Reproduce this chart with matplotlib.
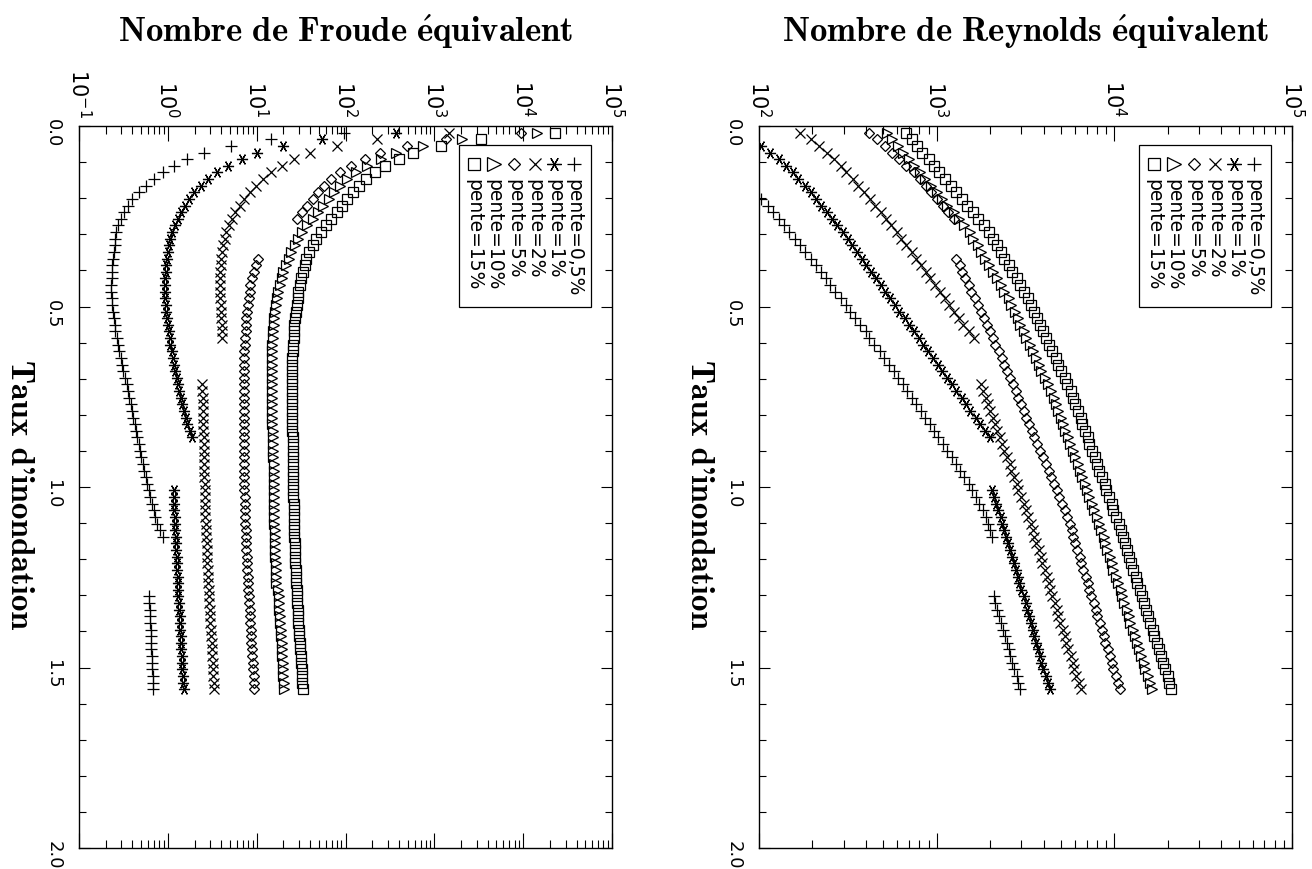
import numpy as np
import matplotlib
matplotlib.use('Agg')
import matplotlib.pyplot as plt
from matplotlib.ticker import (LogLocator, FixedLocator, LogFormatterMathtext, NullFormatter,
                               MultipleLocator, FormatStrFormatter)

plt.rcParams['font.family'] = ['DejaVu Sans']

# sampling grid of the flooding rate (85 points)
taux = np.linspace(0.01835, 1.56, 85)

# values stored as log10 ; each segment starts at grid index k (1-based)
# --- Froude ---
fr_05_a = [1.98, 1.16, 0.71, 0.41, 0.22, 0.07, -0.06, -0.16, -0.25, -0.33,
           -0.40, -0.45, -0.49, -0.53, -0.56, -0.58, -0.59, -0.60, -0.61, -0.62,
           -0.625, -0.63, -0.63, -0.635, -0.635, -0.63, -0.625, -0.62, -0.61, -0.60,
           -0.59, -0.575, -0.56, -0.545, -0.53, -0.515, -0.50, -0.48, -0.465, -0.45,
           -0.435, -0.42, -0.405, -0.39, -0.375, -0.36, -0.345, -0.33, -0.315, -0.30,
           -0.285, -0.27, -0.25, -0.235, -0.215, -0.20, -0.18, -0.16, -0.14, -0.12,
           -0.09, -0.06]
fr_05_b = [-0.21, -0.21, -0.205, -0.20, -0.20, -0.195, -0.19, -0.19, -0.185, -0.18,
           -0.18, -0.175, -0.17, -0.17, -0.165]
fr_1_a = [2.57, 1.74, 1.30, 1.00, 0.83, 0.68, 0.55, 0.45, 0.37, 0.30,
          0.24, 0.19, 0.15, 0.11, 0.08, 0.05, 0.03, 0.01, 0.0, -0.01,
          -0.02, -0.025, -0.03, -0.03, -0.03, -0.03, -0.025, -0.02, -0.01, 0.0,
          0.01, 0.02, 0.03, 0.045, 0.06, 0.07, 0.085, 0.10, 0.115, 0.13,
          0.145, 0.16, 0.18, 0.20, 0.22, 0.245, 0.27]
fr_1_b = [0.065, 0.068, 0.07, 0.073, 0.076, 0.08, 0.083, 0.087, 0.09, 0.094,
          0.098, 0.10, 0.105, 0.11, 0.113, 0.117, 0.12, 0.125, 0.13, 0.133,
          0.137, 0.14, 0.145, 0.15, 0.153, 0.157, 0.16, 0.165, 0.17, 0.173, 0.177]
fr_2_a = [3.17, 2.35, 1.90, 1.60, 1.42, 1.28, 1.16, 1.07, 0.99, 0.92,
          0.86, 0.81, 0.76, 0.72, 0.69, 0.66, 0.64, 0.62, 0.61, 0.60,
          0.595, 0.59, 0.59, 0.59, 0.59, 0.59, 0.595, 0.60, 0.60, 0.605,
          0.61, 0.615]
fr_2_b = [0.39, 0.39, 0.392, 0.394, 0.396, 0.398, 0.40, 0.40, 0.402, 0.404,
          0.406, 0.408, 0.41, 0.41, 0.412, 0.414, 0.416, 0.418, 0.42, 0.422,
          0.424, 0.426, 0.43, 0.433, 0.436, 0.44, 0.443, 0.446, 0.45, 0.453,
          0.456, 0.46, 0.464, 0.468, 0.472, 0.476, 0.48, 0.484, 0.488, 0.492,
          0.496, 0.50, 0.504, 0.508, 0.512, 0.516, 0.52]
fr_5_a = [3.98, 3.13, 2.69, 2.39, 2.22, 2.06, 1.94, 1.84, 1.76, 1.69,
          1.63, 1.57, 1.51, 1.45]
fr_5_b = [1.02, 0.99, 0.965, 0.945, 0.93, 0.92, 0.91, 0.90, 0.89, 0.885,
          0.88, 0.875, 0.87, 0.865, 0.86, 0.86, 0.855, 0.855, 0.855, 0.855,
          0.855, 0.855, 0.855, 0.855, 0.855, 0.855, 0.855, 0.856, 0.857, 0.858,
          0.858, 0.859, 0.86, 0.861, 0.862, 0.863, 0.864, 0.866, 0.868, 0.87,
          0.872, 0.875, 0.878, 0.881, 0.884, 0.888, 0.892, 0.896, 0.90, 0.904,
          0.908, 0.912, 0.916, 0.92, 0.924, 0.928, 0.932, 0.936, 0.94, 0.945,
          0.95, 0.955, 0.96, 0.965, 0.97, 0.975]
fr_10 = [4.16, 3.31, 2.87, 2.57, 2.40, 2.24, 2.12, 2.02, 1.94, 1.87,
         1.81, 1.75, 1.69, 1.63, 1.57, 1.51, 1.47, 1.43, 1.39, 1.36,
         1.33, 1.30, 1.28, 1.26, 1.245, 1.23, 1.22, 1.21, 1.20, 1.19,
         1.185, 1.18, 1.175, 1.17, 1.17, 1.17, 1.168, 1.168, 1.168, 1.17,
         1.17, 1.172, 1.174, 1.176, 1.178, 1.18, 1.182, 1.184, 1.186, 1.188,
         1.19, 1.19, 1.192, 1.193, 1.194, 1.195, 1.196, 1.197, 1.198, 1.20,
         1.202, 1.205, 1.207, 1.21, 1.212, 1.215, 1.217, 1.22, 1.222, 1.245,
         1.248, 1.252, 1.256, 1.26, 1.265, 1.27, 1.275, 1.28, 1.285, 1.29,
         1.294, 1.298, 1.302, 1.306, 1.31]
fr_15 = [4.36, 3.52, 3.07, 2.76, 2.60, 2.45, 2.33, 2.23, 2.15, 2.08,
         2.02, 1.96, 1.90, 1.84, 1.78, 1.72, 1.67, 1.63, 1.59, 1.56,
         1.54, 1.52, 1.50, 1.485, 1.47, 1.46, 1.45, 1.44, 1.43, 1.425,
         1.42, 1.415, 1.41, 1.405, 1.40, 1.40, 1.40, 1.398, 1.398, 1.398,
         1.398, 1.40, 1.40, 1.40, 1.402, 1.403, 1.404, 1.405, 1.406, 1.407,
         1.408, 1.409, 1.41, 1.411, 1.412, 1.413, 1.415, 1.416, 1.418, 1.42,
         1.422, 1.425, 1.428, 1.43, 1.433, 1.436, 1.44, 1.443, 1.446, 1.45,
         1.454, 1.458, 1.462, 1.466, 1.47, 1.475, 1.48, 1.485, 1.49, 1.495,
         1.50, 1.505, 1.51, 1.515, 1.52]

# --- Reynolds ---
re_05_a = [2.01, 2.05, 2.08, 2.11, 2.14, 2.17, 2.20, 2.23, 2.26, 2.29,
           2.32, 2.35, 2.375, 2.40, 2.43, 2.46, 2.49, 2.515, 2.54, 2.57,
           2.60, 2.62, 2.65, 2.68, 2.705, 2.73, 2.76, 2.785, 2.81, 2.835,
           2.86, 2.885, 2.91, 2.935, 2.96, 2.985, 3.01, 3.035, 3.06, 3.085,
           3.11, 3.13, 3.155, 3.18, 3.20, 3.22, 3.24, 3.26, 3.275, 3.29,
           3.30, 3.31]
re_05_b = [3.32, 3.33, 3.34, 3.35, 3.36, 3.375, 3.385, 3.395, 3.405, 3.415,
           3.425, 3.435, 3.45, 3.46, 3.47]
re_1_a = [2.01, 2.06, 2.11, 2.15, 2.19, 2.22, 2.26, 2.29,
          2.32, 2.35, 2.38, 2.41, 2.44, 2.47, 2.50, 2.525, 2.55, 2.58,
          2.605, 2.63, 2.66, 2.685, 2.71, 2.74, 2.765, 2.79, 2.82, 2.845,
          2.87, 2.90, 2.925, 2.95, 2.98, 3.005, 3.03, 3.06, 3.085, 3.11,
          3.14, 3.165, 3.19, 3.22, 3.245, 3.27, 3.30]
re_1_b = [3.31, 3.32, 3.335, 3.345, 3.36, 3.37, 3.38, 3.39, 3.40, 3.415,
          3.425, 3.435, 3.445, 3.455, 3.465, 3.475, 3.49, 3.50, 3.51, 3.52,
          3.53, 3.54, 3.55, 3.56, 3.57, 3.58, 3.59, 3.60, 3.615, 3.625, 3.64]
re_2_a = [2.23, 2.29, 2.34, 2.38, 2.42, 2.46, 2.49, 2.53, 2.56, 2.59,
          2.625, 2.655, 2.685, 2.715, 2.745, 2.775, 2.80, 2.83, 2.86, 2.885,
          2.91, 2.94, 2.965, 2.99, 3.02, 3.045, 3.07, 3.10, 3.125, 3.15,
          3.18, 3.21]
re_2_b = [3.25, 3.26, 3.275, 3.29, 3.30, 3.315, 3.33, 3.34, 3.355, 3.37,
          3.38, 3.395, 3.41, 3.42, 3.435, 3.45, 3.46, 3.475, 3.49, 3.50,
          3.515, 3.53, 3.54, 3.55, 3.56, 3.575, 3.585, 3.595, 3.61, 3.62,
          3.63, 3.64, 3.65, 3.665, 3.675, 3.685, 3.695, 3.71, 3.72, 3.73,
          3.74, 3.755, 3.765, 3.775, 3.785, 3.80, 3.81]
re_5_a = [2.62, 2.665, 2.71, 2.75, 2.79, 2.83, 2.87, 2.905, 2.94, 2.97,
          3.00, 3.035, 3.065, 3.095]
re_5_b = [3.11, 3.13, 3.145, 3.16, 3.18, 3.195, 3.215, 3.23, 3.25, 3.265,
          3.285, 3.30, 3.315, 3.33, 3.35, 3.365, 3.38, 3.395, 3.41, 3.43,
          3.445, 3.46, 3.475, 3.49, 3.505, 3.52, 3.535, 3.55, 3.565, 3.58,
          3.60, 3.615, 3.63, 3.645, 3.66, 3.675, 3.69, 3.705, 3.72, 3.735,
          3.75, 3.76, 3.77, 3.78, 3.79, 3.805, 3.815, 3.825, 3.84, 3.85,
          3.86, 3.87, 3.885, 3.895, 3.905, 3.92, 3.93, 3.94, 3.95, 3.965,
          3.975, 3.985, 3.995, 4.01, 4.02, 4.03]
re_10 = [2.72, 2.75, 2.78, 2.81, 2.845, 2.875, 2.905, 2.935, 2.97, 3.00,
         3.03, 3.06, 3.095, 3.125, 3.155, 3.185,
         3.205, 3.23, 3.25, 3.27, 3.295, 3.315, 3.34, 3.36, 3.38, 3.405,
         3.42, 3.44, 3.455, 3.47, 3.49, 3.505, 3.525, 3.54, 3.56, 3.575, 3.59, 3.61, 3.625, 3.645,
         3.66, 3.67, 3.685, 3.70, 3.71, 3.725, 3.74, 3.75, 3.765, 3.78,
         3.795, 3.805, 3.82, 3.835, 3.845, 3.86, 3.875, 3.885, 3.90, 3.915,
         3.925, 3.94, 3.95, 3.96, 3.975, 3.985, 3.995, 4.01, 4.02, 4.035,
         4.045, 4.055, 4.07, 4.08, 4.09, 4.105, 4.115, 4.13, 4.14, 4.15,
         4.165, 4.175, 4.19, 4.20, 4.21]
re_15 = [2.83, 2.86, 2.89, 2.92, 2.955, 2.985, 3.015, 3.045, 3.08, 3.11,
         3.14, 3.17, 3.205, 3.235, 3.265, 3.295,
         3.315, 3.34, 3.36, 3.38, 3.405, 3.425, 3.45, 3.47, 3.49, 3.515,
         3.53, 3.55, 3.565, 3.58, 3.60, 3.615, 3.635, 3.65, 3.67, 3.685, 3.70, 3.72, 3.735, 3.755,
         3.77, 3.78, 3.795, 3.81, 3.82, 3.835, 3.85, 3.86, 3.875, 3.89,
         3.905, 3.915, 3.93, 3.945, 3.955, 3.97, 3.985, 3.995, 4.01, 4.025,
         4.035, 4.05, 4.06, 4.07, 4.085, 4.095, 4.105, 4.12, 4.13, 4.145,
         4.155, 4.165, 4.18, 4.19, 4.20, 4.215, 4.225, 4.24, 4.25, 4.26,
         4.275, 4.285, 4.30, 4.31, 4.32]

labels = ['pente=0,5%', 'pente=1%', 'pente=2%', 'pente=5%', 'pente=10%', 'pente=15%']
markers = [dict(marker='+', ms=8), dict(marker=(6, 2, 90), ms=8), dict(marker='x', ms=6.5),
           dict(marker='D', ms=5), dict(marker='>', ms=7.5), dict(marker='s', ms=6.8)]

froude = [[(1, fr_05_a), (71, fr_05_b)], [(1, fr_1_a), (55, fr_1_b)],
          [(1, fr_2_a), (39, fr_2_b)], [(1, fr_5_a), (20, fr_5_b)],
          [(1, fr_10)], [(1, fr_15)]]
reynolds = [[(11, re_05_a), (71, re_05_b)], [(3, re_1_a), (55, re_1_b)],
            [(1, re_2_a), (39, re_2_b)], [(1, re_5_a), (20, re_5_b)],
            [(1, re_10)], [(1, re_15)]]

W, H = 1312, 869
fig = plt.figure(figsize=(W / 100, H / 100), dpi=100)
ax_fr = fig.add_axes([79 / W, 1 - 848 / H, 533 / W, 722 / H])
ax_re = fig.add_axes([759 / W, 1 - 848 / H, 533 / W, 722 / H])


def setup(ax, series, decades, title):
    for mk, segs in zip(markers, series):
        for k0, vals in segs:
            x = taux[k0 - 1:k0 - 1 + len(vals)]
            ax.plot(10 ** np.asarray(vals), x, ls='none', color='k', mfc='none', mew=0.9, **mk)

    lo, hi = decades
    ax.set_xscale('log')
    ax.set_xlim(10.0 ** lo, 10.0 ** hi)
    ax.set_ylim(2.0, 0.0)
    ax.xaxis.set_major_locator(FixedLocator(10.0 ** np.arange(lo, hi + 1)))
    ax.xaxis.set_minor_locator(LogLocator(base=10, subs=np.arange(2, 10), numticks=20))
    ax.xaxis.set_major_formatter(LogFormatterMathtext())
    ax.xaxis.set_minor_formatter(NullFormatter())
    ax.yaxis.set_major_locator(FixedLocator([0.0, 0.5, 1.0, 1.5, 2.0]))
    ax.yaxis.set_minor_locator(MultipleLocator(0.1))
    ax.yaxis.set_major_formatter(FormatStrFormatter('%.1f'))

    ax.tick_params(axis='x', which='both', direction='in', top=True, bottom=True,
                   labeltop=True, labelbottom=False, labelrotation=-90, pad=6, labelsize=15)
    ax.tick_params(axis='x', which='major', length=11, width=0.8)
    ax.tick_params(axis='x', which='minor', length=5.5, width=0.8)
    ax.tick_params(axis='y', which='both', direction='in', left=True, right=True,
                   labelleft=True, labelrotation=-90, pad=12, labelsize=13)
    ax.tick_params(axis='y', which='major', length=8, width=0.8)
    ax.tick_params(axis='y', which='minor', length=5, width=0.8)
    for sp in ax.spines.values():
        sp.set_linewidth(1.0)

    ax.set_ylabel("Taux d'inondation", rotation=-90, va='center', ha='center',
                  fontsize=24, family='cmb10')
    ax.yaxis.set_label_coords(-0.112, 0.49)
    ax.text(0.5, 1.13, r'$\mathbf{%s}$' % title, math_fontfamily='cm', transform=ax.transAxes,
            ha='center', va='center', fontsize=25)

    # legend drawn by hand (rotated page)
    ax.add_patch(plt.Rectangle((0.713, 0.749), 0.248, 0.225, transform=ax.transAxes,
                               fill=False, lw=0.9, color='k'))
    cols = [0.929, 0.892, 0.855, 0.817, 0.779, 0.741]
    for cx, mk, lab in zip(cols, markers, labels):
        ax.plot([cx], [0.947], transform=ax.transAxes, ls='none', color='k', mfc='none',
                mew=0.9, clip_on=False, **{**mk, 'ms': mk['ms'] * 1.3})
        ax.text(cx, 0.927, lab, transform=ax.transAxes, rotation=-90, ha='center', va='top',
                fontsize=13.5)


setup(ax_fr, froude, (-1, 5), r'Nombre\ de\ Froude\ \acute{e}quivalent')
setup(ax_re, reynolds, (2, 5), r'Nombre\ de\ Reynolds\ \acute{e}quivalent')

fig.savefig('out.png', dpi=100)
